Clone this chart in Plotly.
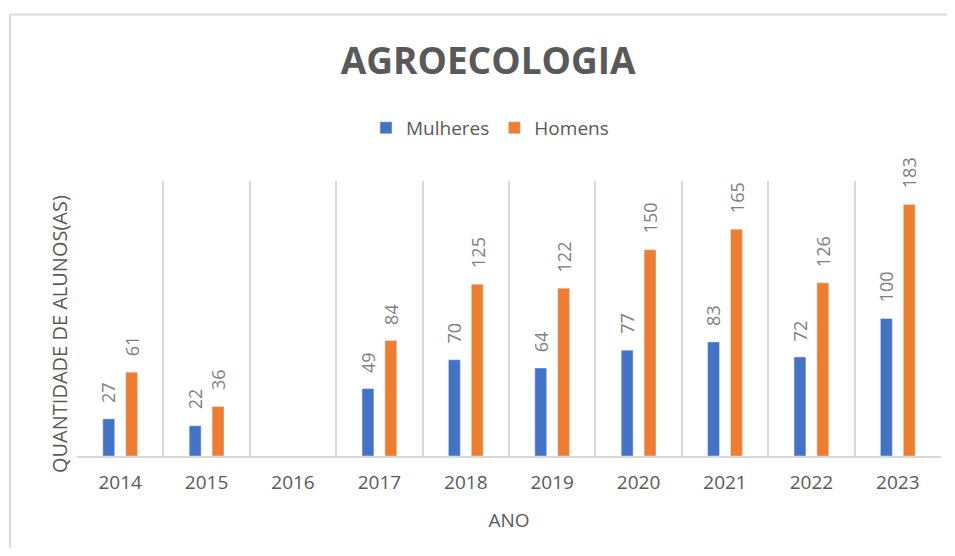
import plotly.graph_objects as go

# dados
anos = ['2014', '2015', '2016', '2017', '2018', '2019', '2020', '2021', '2022', '2023']
mulheres = [27, 22, None, 49, 70, 64, 77, 83, 72, 100]
homens = [61, 36, None, 84, 125, 122, 150, 165, 126, 183]

azul = '#4472C4'
laranja = '#ED7D31'
cinza_txt = '#595959'
cinza_lbl = '#808080'
cinza_grid = '#D9D9D9'

fig = go.Figure()
fig.add_trace(go.Bar(name='Mulheres', x=anos, y=mulheres, marker=dict(color=azul)))
fig.add_trace(go.Bar(name='Homens', x=anos, y=homens, marker=dict(color=laranja)))

# rotulos das barras (rotacionados, um pouco acima de cada barra)
# x = indice da categoria (com string '2014' o plotly achava que era numero)
rotulos = []
for valores, desloc in [(mulheres, -11.5), (homens, 11.5)]:
    for i, v in enumerate(valores):
        if v is None:
            continue
        rotulos.append(dict(
            x=i, y=v, xref='x', yref='y',
            text=str(v), showarrow=False,
            textangle=-90, xanchor='center', yanchor='bottom',
            xshift=desloc, yshift=14,
            font=dict(family='Open Sans', size=18, color=cinza_lbl),
        ))

# titulo do eixo y como anotacao (fica um pouco abaixo do centro)
rotulos.append(dict(
    x=-0.0208, y=0.4436, xref='paper', yref='paper',
    text='QUANTIDADE DE ALUNOS(AS)', showarrow=False,
    textangle=-90, xanchor='center', yanchor='middle',
    font=dict(family='Open Sans', size=20, color=cinza_txt),
))

# a pagina tem 8px de margem no body, por isso a figura fica menor
# (altura 540 para nao aparecer barra de rolagem)
fig.update_layout(
    width=947,
    height=540,
    margin=dict(l=69, r=14, t=173, b=92),
    paper_bgcolor='white',
    plot_bgcolor='white',
    barmode='group',
    bargap=0.47,
    bargroupgap=0.48,
    font=dict(family='Open Sans', color=cinza_txt),
    title=dict(
        text='<b>AGROECOLOGIA</b>',
        x=0.507, xanchor='center',
        y=0.902, yanchor='middle',
        font=dict(family='Open Sans', size=37, color=cinza_txt),
    ),
    legend=dict(
        orientation='h',
        x=0.478, xanchor='center',
        y=1.193, yanchor='middle',
        font=dict(size=19, color=cinza_txt),
        itemwidth=30,
        traceorder='normal',
    ),
    xaxis=dict(
        type='category',
        categoryorder='array',
        categoryarray=anos,
        range=[-0.5, len(anos) - 0.5],
        tickson='boundaries',
        showgrid=True,
        gridcolor=cinza_grid,
        gridwidth=1.5,
        showline=True,
        linecolor=cinza_grid,
        linewidth=1.5,
        ticks='',
        tickangle=0,
        ticklabelstandoff=8,
        automargin=False,
        tickfont=dict(size=19, color=cinza_txt),
        title=dict(text='ANO', font=dict(size=19, color=cinza_txt), standoff=20),
    ),
    yaxis=dict(
        range=[0, 200],
        showgrid=False,
        showticklabels=False,
        zeroline=False,
        ticks='',
        automargin=False,
    ),
    annotations=rotulos,
    # borda da area do grafico (so aparecem o topo e a esquerda)
    shapes=[
        dict(type='line', xref='paper', yref='paper',
             x0=-0.0775, x1=1.2, y0=1.6055, y1=1.6055,
             line=dict(color=cinza_grid, width=2), layer='below'),
        dict(type='line', xref='paper', yref='paper',
             x0=-0.0775, x1=-0.0775, y0=-0.6, y1=1.6055,
             line=dict(color=cinza_grid, width=2), layer='below'),
    ],
)

fig.write_html('out.html')
